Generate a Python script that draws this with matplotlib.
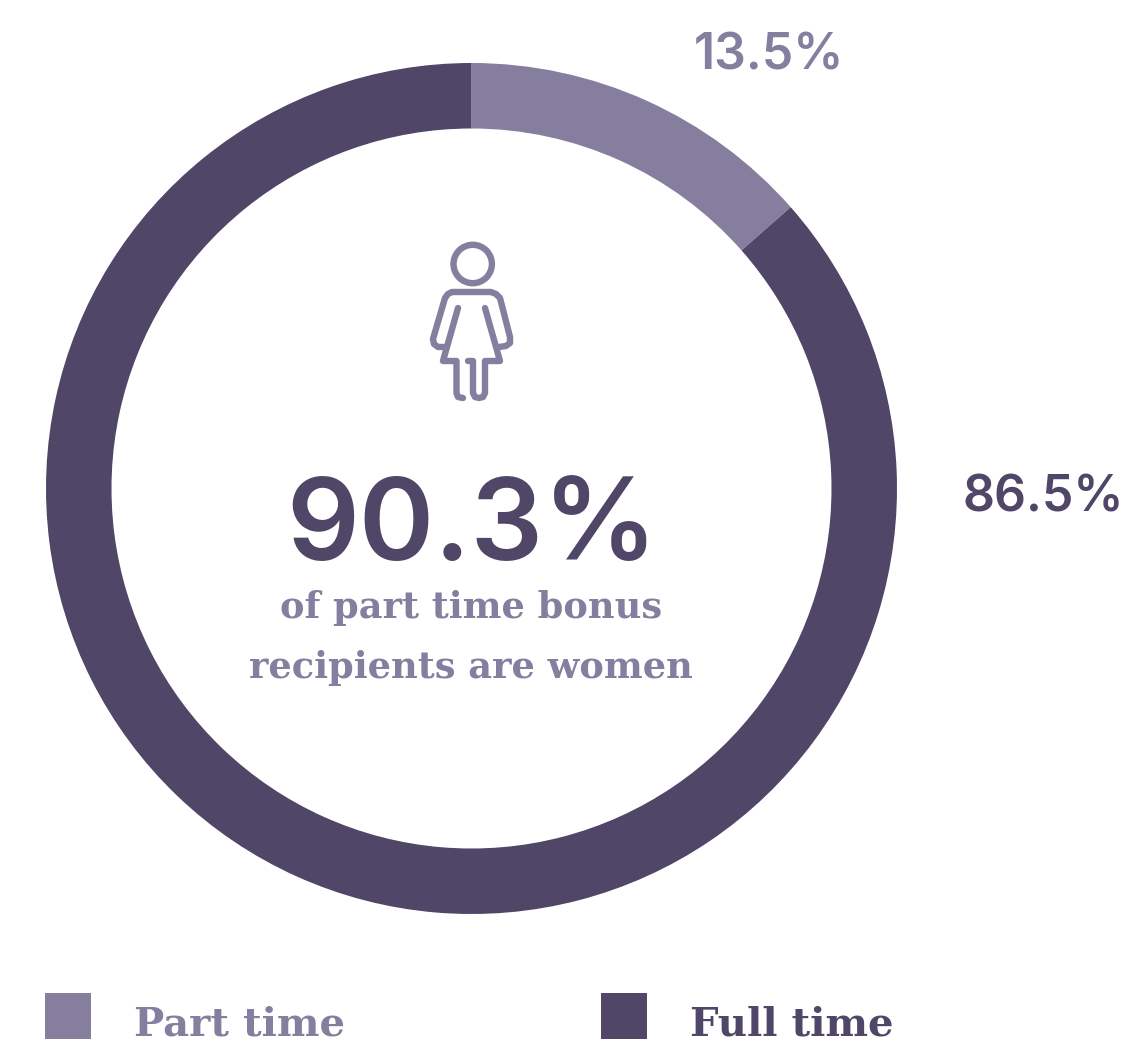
import matplotlib.pyplot as plt
from matplotlib.patches import Circle, Rectangle

# canvas is laid out in image pixels, y flipped through py()
W, H = 1128, 1042

categories = ["Part time", "Full time"]
shares = [13.5, 86.5]
share_labels = ["13.5%", "86.5%"]
headline = "90.3%"
caption = ["of part time bonus", "recipients are women"]

LIGHT = "#857e9e"
DARK = "#4f4668"
SLAB = ["DejaVu Serif"]
SANS = ["Inter", "DejaVu Sans"]


def py(y):
    return H - y


def draw_icon(ax):
    # stroke outline of the woman pictogram, traced in image pixels
    strokes = [
        [(458, 308), (443, 361), (456.5, 361), (456.5, 393), (458, 397), (463, 398)],
        [(468, 361), (473, 361), (473, 393), (475, 397), (479, 398), (483, 397), (485, 393), (485, 361), (500, 361), (485, 308)],
        [(445, 347), (438, 347), (434, 344), (433, 339), (445, 298), (448, 294), (452, 292),
         (491, 292), (496, 294), (500, 298), (510, 337), (510, 343), (506, 346), (499, 347)],
    ]
    for s in strokes:
        xs, ys = zip(*s)
        ax.plot(xs, [py(y) for y in ys], color=LIGHT, lw=4.6, solid_capstyle="round", solid_joinstyle="round")
    ax.add_patch(Circle((472.7, py(264)), 19.2, fill=False, ec=LIGHT, lw=4.6))


def main():
    fig = plt.figure(figsize=(W / 100, H / 100), dpi=100, facecolor="white")
    ax = fig.add_axes([0, 0, 1, 1])

    ax.pie(
        shares,
        colors=[LIGHT, DARK],
        startangle=90,
        counterclock=False,
        center=(471.5, py(488.5)),
        radius=425.5,
        wedgeprops={"width": 65.5, "linewidth": 0},
    )
    ax.set_xlim(0, W)
    ax.set_ylim(0, H)
    ax.set_aspect("equal")
    ax.axis("off")

    ax.text(769, py(70), share_labels[0], color=LIGHT, fontsize=36, family=SANS, weight=600, ha="center", va="baseline")
    ax.text(1043, py(512), share_labels[1], color=DARK, fontsize=36, family=SANS, weight=600, ha="center", va="baseline")

    draw_icon(ax)

    ax.text(472, py(560), headline, color=DARK, fontsize=82, family=SANS, weight=600, ha="center", va="baseline")
    ax.text(471, py(618), caption[0], color=LIGHT, fontsize=26.5, family=SLAB, weight="bold", ha="center", va="baseline")
    ax.text(471, py(678), caption[1], color=LIGHT, fontsize=26.5, family=SLAB, weight="bold", ha="center", va="baseline")

    for x, tx, name, c in zip([45, 601], [134, 690], categories, [LIGHT, DARK]):
        ax.add_patch(Rectangle((x, py(1039)), 46, 46, fc=c, ec="none"))
        ax.text(tx, py(1036), name, color=c, fontsize=29, family=SLAB, weight="bold", ha="left", va="baseline")

    fig.savefig("out.png", dpi=100)
    plt.close(fig)


if __name__ == "__main__":
    main()
